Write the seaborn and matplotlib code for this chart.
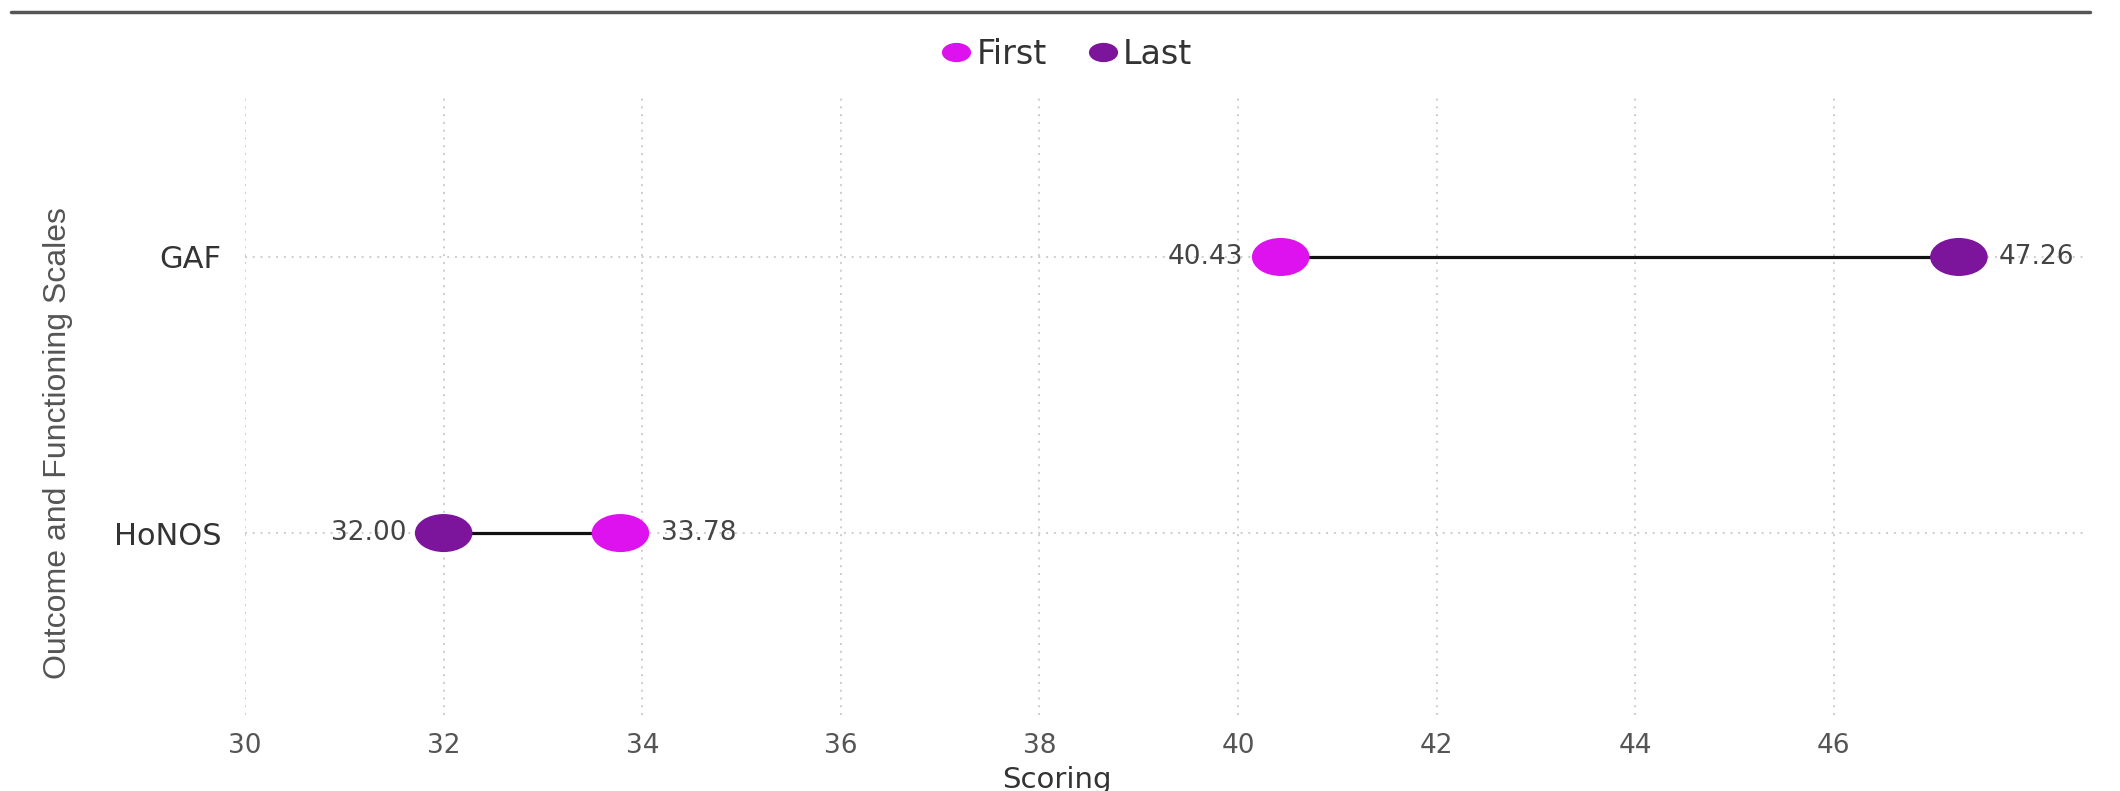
import numpy as np
import pandas as pd
import matplotlib
matplotlib.use("Agg")
import matplotlib.pyplot as plt
from matplotlib.path import Path
from matplotlib.transforms import Affine2D
from matplotlib.lines import Line2D
import seaborn as sns

# Scores per scale, first and last assessment
scales = ["GAF", "HoNOS"]
first_scores = [40.43, 33.78]
last_scores = [47.26, 32.00]
phases = ["First", "Last"]
x_ticks = [30, 32, 34, 36, 38, 40, 42, 44, 46]

first_color = "#DE12EE"
last_color = "#7C149C"

sns.set_theme(style="white")
plt.rcParams["font.family"] = ["DejaVu Sans"]

df = pd.DataFrame({
    "scale": scales * 2,
    "phase": [phases[0]] * len(scales) + [phases[1]] * len(scales),
    "score": first_scores + last_scores,
})

# Wide oval marker
oval = Affine2D().scale(1.0, 0.66).transform_path(Path.unit_circle())

fig = plt.figure(figsize=(21.2, 7.91), dpi=100)
ax = fig.add_axes([0.1156, 0.0961, 0.8693, 0.7839])

# Connector lines between first and last score
for s, f, l in zip(scales, first_scores, last_scores):
    ax.plot([f, l], [s, s], color="#111111", lw=2.3, zorder=2, solid_capstyle="butt")

sns.scatterplot(
    data=df, x="score", y="scale", hue="phase",
    palette={"First": first_color, "Last": last_color},
    marker=oval, s=1720, linewidth=0, legend=False, zorder=3, ax=ax,
)

# Value labels: lower value to the left, higher to the right
for s, f, l in zip(scales, first_scores, last_scores):
    lo, hi = min(f, l), max(f, l)
    ax.annotate(f"{lo:.2f}", (lo, s), xytext=(-27, 0), textcoords="offset points",
                ha="right", va="center", fontsize=19, color="#444444")
    ax.annotate(f"{hi:.2f}", (hi, s), xytext=(29, 0), textcoords="offset points",
                ha="left", va="center", fontsize=19, color="#444444")

ax.set_xlim(30, 48.56)
ax.set_ylim(1.659, -0.587)
ax.set_xticks(x_ticks)
ax.set_xticklabels([str(t) for t in x_ticks])
ax.set_xlabel("")
ax.set_ylabel("")
ax.grid(True, linestyle=(0, (1, 3)), color="#cdcdcd", linewidth=1.4)
for sp in ax.spines.values():
    sp.set_visible(False)
ax.tick_params(axis="x", length=0, pad=13, labelsize=19, labelcolor="#555555")
ax.tick_params(axis="y", length=0, pad=17, labelsize=22, labelcolor="#333333")

fig.text(1057 / 2120, 1 - 780 / 791, "Scoring", ha="center", va="center",
         fontsize=21, color="#333333")
fig.text(58 / 2120, 1 - 443 / 791, "Outcome and Functioning Scales", rotation=90,
         ha="center", va="center", fontsize=23, color="#555555",
         family=["Liberation Sans", "DejaVu Sans"])

handles = [
    Line2D([], [], linestyle="none", marker=oval, markersize=21,
           markerfacecolor=first_color, markeredgewidth=0, label="First"),
    Line2D([], [], linestyle="none", marker=oval, markersize=21,
           markerfacecolor=last_color, markeredgewidth=0, label="Last"),
]
fig.legend(handles=handles, loc="center", bbox_to_anchor=(1066 / 2120, 1 - 54 / 791), ncol=2,
           frameon=False, fontsize=24, handletextpad=0.1, columnspacing=1.2,
           handlelength=1.0, labelcolor="#333333")

# Header rule along the top
fig.add_artist(Line2D([0.005, 0.986], [0.985, 0.985], transform=fig.transFigure,
                      color="#555555", lw=2.5))

fig.savefig("out.png", dpi=100, facecolor="white")
